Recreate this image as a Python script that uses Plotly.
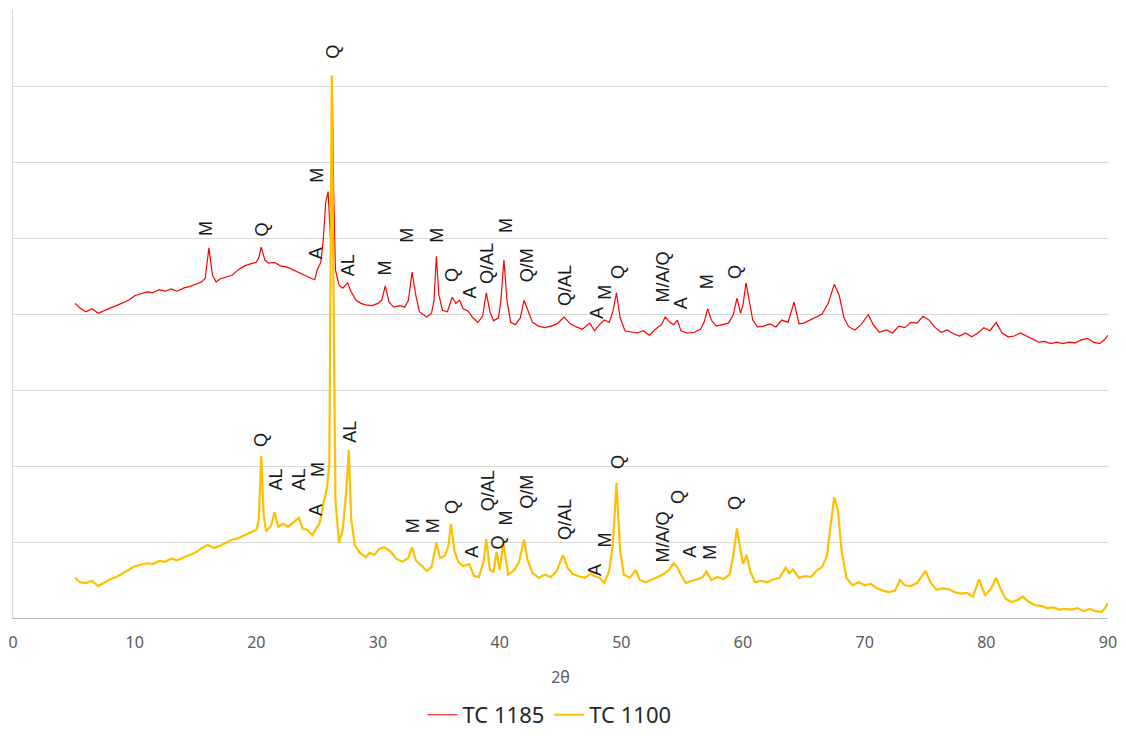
import plotly.graph_objects as go

# TC 1185 (upper pattern, offset)
red_x = [5.1, 5.5, 6.0, 6.5, 7.0, 7.5, 8.0, 8.5, 9.0, 9.5, 10.0, 10.5, 11.0, 11.5, 12.0, 12.5,
         13.0, 13.5, 14.0, 14.5, 15.0, 15.5, 15.8, 16.1, 16.4, 16.7, 17.0, 17.5, 18.0, 18.5,
         19.0, 19.5, 20.0, 20.2, 20.4, 20.7, 21.0, 21.5, 22.0, 22.5, 23.0, 23.5, 24.0, 24.5,
         24.8, 25.0, 25.3, 25.5, 25.7, 25.9, 26.1, 26.25, 26.35, 26.5, 26.8, 27.1, 27.5, 27.8,
         28.2, 28.6, 29.0, 29.5, 30.0, 30.3, 30.6, 30.9, 31.3, 31.8, 32.2, 32.5, 32.8, 33.1,
         33.4, 34.0, 34.4, 34.6, 34.8, 35.0, 35.3, 35.7, 36.1, 36.4, 36.7, 37.0, 37.4, 37.8,
         38.2, 38.6, 38.9, 39.2, 39.5, 39.9, 40.1, 40.35, 40.6, 40.9, 41.3, 41.7, 42.0, 42.3,
         42.7, 43.2, 43.7, 44.2, 44.7, 45.3, 45.8, 46.3, 46.8, 47.4, 47.8, 48.2, 48.6, 49.0,
         49.3, 49.6, 49.9, 50.3, 50.8, 51.3, 51.8, 52.3, 52.8, 53.3, 53.6, 54.0, 54.3, 54.6,
         54.9, 55.4, 56.0, 56.5, 56.8, 57.1, 57.4, 57.8, 58.3, 58.8, 59.2, 59.5, 59.8, 60.0,
         60.25, 60.5, 60.8, 61.2, 61.7, 62.2, 62.7, 63.2, 63.7, 64.2, 64.6, 65.0, 65.5, 66.0,
         66.5, 67.0, 67.5, 67.9, 68.3, 68.7, 69.2, 69.7, 70.3, 70.7, 71.2, 71.8, 72.3, 72.8,
         73.3, 73.8, 74.3, 74.8, 75.3, 75.8, 76.3, 76.8, 77.3, 77.8, 78.3, 78.8, 79.3, 79.8,
         80.3, 80.8, 81.3, 81.8, 82.3, 82.8, 83.3, 83.8, 84.3, 84.8, 85.3, 85.8, 86.3, 86.8,
         87.3, 87.8, 88.3, 88.8, 89.3, 89.7, 90.0]
red_y = [4.14, 4.08, 4.03, 4.07, 4.01, 4.05, 4.08, 4.11, 4.14, 4.18, 4.24, 4.26, 4.29, 4.28, 4.32, 4.30,
         4.33, 4.30, 4.34, 4.36, 4.39, 4.42, 4.47, 4.87, 4.51, 4.42, 4.46, 4.49, 4.51, 4.58,
         4.63, 4.66, 4.68, 4.74, 4.88, 4.71, 4.67, 4.68, 4.63, 4.62, 4.58, 4.55, 4.50, 4.47,
         4.45, 4.58, 4.68, 4.97, 5.47, 5.61, 4.97, 6.92, 5.66, 4.58, 4.38, 4.34, 4.41, 4.29,
         4.18, 4.14, 4.12, 4.11, 4.14, 4.18, 4.37, 4.16, 4.09, 4.11, 4.09, 4.18, 4.55, 4.25,
         4.03, 3.96, 4.01, 4.18, 4.76, 4.25, 4.05, 4.03, 4.22, 4.14, 4.18, 4.07, 4.04, 3.95,
         3.89, 3.97, 4.28, 4.03, 3.91, 3.95, 4.18, 4.71, 4.18, 3.89, 3.86, 3.95, 4.18, 4.05,
         3.89, 3.84, 3.82, 3.84, 3.87, 3.96, 3.87, 3.83, 3.80, 3.88, 3.78, 3.86, 3.92, 3.89,
         4.03, 4.28, 3.95, 3.78, 3.76, 3.75, 3.78, 3.72, 3.80, 3.86, 3.96, 3.89, 3.86, 3.92,
         3.78, 3.75, 3.76, 3.80, 3.89, 4.07, 3.92, 3.84, 3.86, 3.88, 3.99, 4.21, 4.01, 4.12,
         4.41, 4.18, 3.92, 3.83, 3.84, 3.87, 3.83, 3.92, 3.89, 4.16, 3.87, 3.88, 3.92, 3.95,
         4.00, 4.14, 4.39, 4.25, 3.95, 3.83, 3.79, 3.86, 3.99, 3.86, 3.76, 3.79, 3.75, 3.84,
         3.82, 3.89, 3.88, 3.97, 3.92, 3.82, 3.76, 3.79, 3.74, 3.71, 3.75, 3.70, 3.75, 3.82,
         3.78, 3.89, 3.75, 3.70, 3.71, 3.75, 3.71, 3.66, 3.63, 3.64, 3.61, 3.63, 3.61, 3.63,
         3.62, 3.66, 3.68, 3.63, 3.61, 3.66, 3.72]

# TC 1100 (lower pattern)
yel_x = [5.1, 5.5, 6.0, 6.5, 7.0, 7.5, 8.0, 8.5, 9.0, 9.5, 10.0, 10.5, 11.0, 11.5, 12.0, 12.5,
         13.0, 13.5, 14.0, 14.5, 15.0, 15.5, 16.0, 16.5, 17.0, 17.5, 18.0, 18.5, 19.0, 19.5,
         20.0, 20.2, 20.4, 20.6, 20.8, 21.2, 21.5, 21.8, 22.2, 22.6, 23.0, 23.5, 23.8, 24.2,
         24.6, 24.9, 25.2, 25.5, 25.8, 26.0, 26.2, 26.35, 26.5, 26.8, 27.1, 27.4, 27.6, 27.8,
         28.1, 28.5, 29.0, 29.3, 29.7, 30.1, 30.5, 31.0, 31.5, 32.0, 32.5, 32.8, 33.1, 33.5,
         34.0, 34.4, 34.6, 34.8, 35.1, 35.5, 35.8, 36.0, 36.3, 36.6, 37.0, 37.5, 37.9, 38.3,
         38.7, 38.9, 39.2, 39.5, 39.75, 40.0, 40.3, 40.7, 41.2, 41.6, 42.0, 42.3, 42.7, 43.2,
         43.7, 44.2, 44.7, 45.2, 45.6, 46.0, 46.5, 47.0, 47.5, 47.8, 48.2, 48.6, 49.0, 49.3,
         49.6, 49.9, 50.2, 50.7, 51.2, 51.5, 52.0, 52.5, 53.0, 53.5, 53.9, 54.3, 54.6, 54.9,
         55.3, 55.8, 56.3, 56.7, 57.0, 57.4, 57.9, 58.4, 58.9, 59.2, 59.5, 59.8, 60.0, 60.3,
         60.6, 61.0, 61.5, 62.0, 62.5, 63.0, 63.5, 63.8, 64.1, 64.6, 65.1, 65.6, 66.1, 66.5,
         66.9, 67.2, 67.5, 67.8, 68.1, 68.5, 69.0, 69.5, 70.0, 70.5, 71.0, 71.5, 72.0, 72.5,
         72.9, 73.3, 73.8, 74.3, 74.7, 75.0, 75.4, 75.9, 76.4, 76.9, 77.4, 77.9, 78.4, 78.9,
         79.4, 79.9, 80.4, 80.8, 81.2, 81.6, 82.1, 82.6, 83.0, 83.5, 84.0, 84.5, 85.0, 85.5,
         86.0, 86.5, 87.0, 87.5, 88.0, 88.5, 89.0, 89.5, 89.8, 90.0]
yel_y = [0.53, 0.47, 0.46, 0.49, 0.42, 0.47, 0.51, 0.54, 0.59, 0.63, 0.68, 0.70, 0.72, 0.71, 0.75, 0.74,
         0.78, 0.76, 0.80, 0.83, 0.86, 0.92, 0.96, 0.92, 0.95, 0.99, 1.03, 1.05, 1.09, 1.12,
         1.16, 1.29, 2.13, 1.36, 1.14, 1.21, 1.39, 1.20, 1.24, 1.20, 1.25, 1.32, 1.18, 1.16,
         1.09, 1.18, 1.25, 1.49, 1.71, 2.01, 7.14, 4.18, 1.55, 0.99, 1.16, 1.68, 2.21, 1.29,
         0.96, 0.86, 0.80, 0.86, 0.83, 0.91, 0.93, 0.88, 0.78, 0.74, 0.79, 0.93, 0.76, 0.70,
         0.62, 0.67, 0.82, 0.99, 0.79, 0.82, 0.96, 1.24, 0.87, 0.74, 0.68, 0.71, 0.55, 0.54,
         0.76, 1.04, 0.63, 0.61, 0.87, 0.63, 0.99, 0.57, 0.63, 0.74, 1.03, 0.76, 0.59, 0.53,
         0.57, 0.54, 0.62, 0.83, 0.66, 0.58, 0.55, 0.53, 0.58, 0.55, 0.53, 0.46, 0.62, 0.96,
         1.78, 0.89, 0.57, 0.53, 0.63, 0.50, 0.47, 0.50, 0.54, 0.58, 0.63, 0.72, 0.67, 0.57,
         0.46, 0.49, 0.51, 0.54, 0.61, 0.50, 0.54, 0.51, 0.57, 0.82, 1.18, 0.89, 0.71, 0.83,
         0.61, 0.47, 0.49, 0.47, 0.51, 0.53, 0.66, 0.59, 0.64, 0.53, 0.55, 0.54, 0.63, 0.67,
         0.82, 1.22, 1.59, 1.42, 0.89, 0.53, 0.43, 0.47, 0.43, 0.45, 0.39, 0.36, 0.34, 0.36,
         0.50, 0.43, 0.42, 0.46, 0.55, 0.62, 0.47, 0.37, 0.39, 0.38, 0.34, 0.32, 0.33, 0.28,
         0.51, 0.30, 0.39, 0.53, 0.37, 0.25, 0.21, 0.24, 0.28, 0.21, 0.17, 0.16, 0.13, 0.14,
         0.11, 0.12, 0.11, 0.13, 0.09, 0.12, 0.09, 0.08, 0.14, 0.20]

# phase labels
red_labels = ["M", "Q", "M", "A", "Q", "AL", "M", "M", "M", "Q", "A", "Q/AL", "M", "Q/M",
              "Q/AL", "A", "M", "Q", "M/A/Q", "A", "M", "Q"]
red_lab_x = [15.86, 20.46, 24.98, 24.90, 26.29, 27.53, 30.57, 32.37, 34.84, 36.07, 37.55, 38.95,
             40.51, 42.24, 45.36, 47.99, 48.64, 49.71, 53.41, 54.97, 57.03, 59.33]
red_lab_y = [5.13, 5.11, 5.83, 4.80, 7.45, 4.64, 4.61, 5.04, 5.04, 4.51, 4.28, 4.67,
             5.17, 4.64, 4.38, 4.01, 4.29, 4.55, 4.49, 4.14, 4.43, 4.55]

yel_labels = ["Q", "AL", "AL", "M", "A", "AL", "M", "M", "Q", "A", "Q/AL", "Q", "M", "Q/M",
              "Q/AL", "A", "M", "Q", "M/A/Q", "Q", "A", "M", "Q"]
yel_lab_x = [20.38, 21.61, 23.50, 25.06, 24.90, 27.69, 32.87, 34.51, 36.07, 37.72, 39.03, 39.85,
             40.51, 42.24, 45.36, 47.82, 48.64, 49.71, 53.41, 54.64, 55.63, 57.27, 59.33]
yel_lab_y = [2.34, 1.82, 1.82, 1.96, 1.42, 2.45, 1.22, 1.22, 1.46, 0.87, 1.68, 0.99,
             1.32, 1.66, 1.30, 0.63, 1.03, 2.05, 1.07, 1.59, 0.87, 0.87, 1.51]

fig = go.Figure()

fig.add_trace(go.Scatter(
    x=red_x, y=red_y,
    name="TC 1185",
    mode="lines",
    line=dict(width=1.2, color="#FF0000"),
))

fig.add_trace(go.Scatter(
    x=yel_x, y=yel_y,
    name="TC 1100",
    mode="lines",
    line=dict(width=2.2, color="#FFC000"),
))

# rotated phase annotations
for labels, xs, ys in [(red_labels, red_lab_x, red_lab_y), (yel_labels, yel_lab_x, yel_lab_y)]:
    for txt, lx, ly in zip(labels, xs, ys):
        fig.add_annotation(
            x=lx, y=ly, text=txt,
            xref="x", yref="y",
            showarrow=False, textangle=-90,
            font=dict(family="Liberation Sans, Arial", size=18, color="#1a1a1a"),
        )

# page body has an 8px margin, so the figure is a bit smaller than the window
fig.update_layout(
    width=1110,
    height=720,
    margin=dict(l=5, r=10, t=2, b=110, autoexpand=False),
    plot_bgcolor="white",
    paper_bgcolor="white",
    showlegend=True,
    legend=dict(
        orientation="h",
        x=0.49, xanchor="center",
        y=-0.194, yanchor="bottom",
        font=dict(family="Noto Sans", size=22, color="#262626"),
        itemwidth=30,
    ),
    xaxis=dict(
        range=[0, 90],
        dtick=10,
        showgrid=False,
        zeroline=False,
        showline=True,
        linecolor="#bfbfbf",
        ticks="",
        ticklabelstandoff=10,
        tickfont=dict(family="Noto Sans", size=16, color="#595959"),
        title=dict(text="2θ", standoff=19,
                   font=dict(family="Noto Sans", size=16, color="#595959")),
    ),
    yaxis=dict(
        range=[0, 8],
        dtick=1,
        showgrid=True,
        gridcolor="#d9d9d9",
        zeroline=False,
        showline=True,
        linecolor="#d9d9d9",
        showticklabels=False,
        ticks="",
    ),
)

fig.write_html("out.html")
